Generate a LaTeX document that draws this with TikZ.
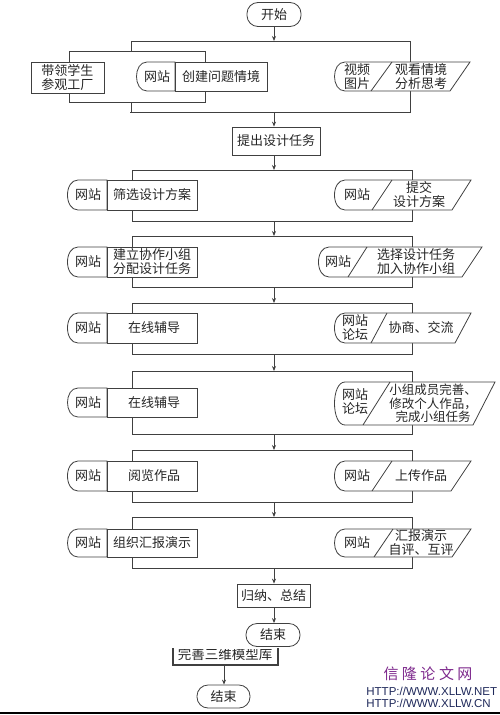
\documentclass[tikz,border=0pt]{standalone}
\usepackage{fontspec}
\setmainfont{Noto Sans CJK SC}
\newfontfamily\urlfont{Liberation Sans}
\usetikzlibrary{arrows.meta}
\definecolor{wmpurple}{RGB}{125,40,140}
\definecolor{urlblue}{RGB}{30,40,90}

\begin{document}
\begin{tikzpicture}[x=1pt,y=-1pt,line width=0.8pt,color=black!75,
    >={Stealth[length=5pt,width=4pt]},
    txt/.style={font=\fontsize{13}{14}\selectfont,align=center,inner sep=0pt,text=black!85},
    term/.style={txt,draw,fill=white,rounded corners=11pt,minimum width=54pt,minimum height=24pt},
    proc/.style={txt,draw,fill=white,minimum height=28pt},
    shp/.style={draw,fill=white}]
    \useasboundingbox (0,0) rectangle (500,715);

    % start and first parallel block
    \node[term] (start) at (274,14.5) {开始};
    \coordinate (s1t) at (274,41);
    \coordinate (s1b) at (274,112);
    \draw[->] (start) -- (s1t);
    \draw (131,51) -- (131,41) -- (410,41) -- (410,112) -- (130,112);
    \draw (131,102) -- (131,112);
    \draw (69,51) rectangle (205,102);
    \node[proc,minimum width=73pt,minimum height=31pt] (visit) at (67.5,77.5) {带领学生\\参观工厂};
    \draw[shp] (175,62) -- (147,62) .. controls (133,62) and (133,91) .. (147,91) -- (175,91) -- cycle;
    \draw[shp] (175,62) rectangle (267,91);
    \node[txt] (w1) at (157,76.5) {网站};
    \node[txt] (p1) at (221,76.5) {创建问题情境};
    \draw[shp] (470,62) -- (345,62) .. controls (331,62) and (331,91) .. (345,91) -- (450,91) -- cycle;
    \draw (371,91) -- (392,62);
    \node[txt] (rw1) at (357,76.5) {视频\\图片};
    \node[txt] (rd1) at (421,76.5) {观看情境\\分析思考};

    \node[proc,minimum width=88pt] (design) at (276,141) {提出设计任务};
    \coordinate (s2t) at (274,170);
    \draw[->] (s1b) -- (s1b |- design.north);
    \draw[->] (design.south -| s2t) -- (s2t);

    % block 2
    \coordinate (s2b) at (274,221);
    \draw (132,170) rectangle (412,221);
    \draw[shp] (107,180) -- (78,180) .. controls (64,180) and (64,210) .. (78,210) -- (107,210) -- cycle;
    \draw[shp] (107,180) rectangle (197,210);
    \node[txt] (w2) at (88,195) {网站};
    \node[txt] (p2) at (152,195) {筛选设计方案};
    \draw[shp] (471,180) -- (345,180) .. controls (331,180) and (331,210) .. (345,210) -- (452,210) -- cycle;
    \draw (372,210) -- (392,180);
    \node[txt] (rw2) at (357,195) {网站};
    \node[txt] (rd2) at (419,195) {提交\\设计方案};

    % block 3
    \coordinate (s3t) at (274,236);
    \coordinate (s3b) at (274,287);
    \draw[->] (s2b) -- (s3t);
    \draw (132,236) rectangle (412,287);
    \draw[shp] (107,247) -- (78,247) .. controls (64,247) and (64,277) .. (78,277) -- (107,277) -- cycle;
    \draw[shp] (107,247) rectangle (197,277);
    \node[txt] (w3) at (88,262) {网站};
    \node[txt] (p3) at (152,262) {建立协作小组\\分配设计任务};
    \draw[shp] (482,247) -- (329,247) .. controls (315,247) and (315,277) .. (329,277) -- (462,277) -- cycle;
    \draw (348,277) -- (367,247);
    \node[txt] (rw3) at (338,262) {网站};
    \node[txt] (rd3) at (416,262) {选择设计任务\\加入协作小组};

    % block 4
    \coordinate (s4t) at (274,303);
    \coordinate (s4b) at (274,354);
    \draw[->] (s3b) -- (s4t);
    \draw (132,303) rectangle (412,354);
    \draw[shp] (107,313) -- (78,313) .. controls (64,313) and (64,343) .. (78,343) -- (107,343) -- cycle;
    \draw[shp] (107,313) rectangle (197,343);
    \node[txt] (w4) at (88,328) {网站};
    \node[txt] (p4) at (154,328) {在线辅导};
    \draw[shp] (471,313) -- (345,313) .. controls (331,313) and (331,343) .. (345,343) -- (455,343) -- cycle;
    \draw (371,343) -- (387,313);
    \node[txt] (rw4) at (355,328) {网站\\论坛};
    \node[txt] (rd4) at (421,328) {协商、交流};

    % block 5
    \coordinate (s5t) at (274,371);
    \coordinate (s5b) at (274,434);
    \draw[->] (s4b) -- (s5t);
    \draw (132,371) rectangle (412,434);
    \draw[shp] (107,388) -- (78,388) .. controls (64,388) and (64,417) .. (78,417) -- (107,417) -- cycle;
    \draw[shp] (107,388) rectangle (197,417);
    \node[txt] (w5) at (88,402.5) {网站};
    \node[txt] (p5) at (154,402.5) {在线辅导};
    \draw[shp] (495,382) -- (345,382) .. controls (331,382) and (331,425) .. (345,425) -- (473,425) -- cycle;
    \draw (363,425) -- (390,382);
    \node[txt] (rw5) at (355,402) {网站\\论坛};
    \node[txt,font=\fontsize{12.5}{13.5}\selectfont] (rd5) at (433,403.5) {小组成员完善、\\修改个人作品，\\完成小组任务};

    % block 6
    \coordinate (s6t) at (274,450);
    \coordinate (s6b) at (274,502);
    \draw[->] (s5b) -- (s6t);
    \draw (132,450) rectangle (412,502);
    \draw[shp] (107,461) -- (78,461) .. controls (64,461) and (64,491) .. (78,491) -- (107,491) -- cycle;
    \draw[shp] (107,461) rectangle (197,491);
    \node[txt] (w6) at (88,476) {网站};
    \node[txt] (p6) at (154,476) {阅览作品};
    \draw[shp] (471,461) -- (345,461) .. controls (331,461) and (331,491) .. (345,491) -- (451,491) -- cycle;
    \draw (372,491) -- (392,461);
    \node[txt] (rw6) at (357,476) {网站};
    \node[txt] (rd6) at (421,476) {上传作品};

    % block 7
    \coordinate (s7t) at (274,517);
    \coordinate (s7b) at (274,568);
    \draw[->] (s6b) -- (s7t);
    \draw (132,517) rectangle (412,568);
    \draw[shp] (107,529) -- (78,529) .. controls (64,529) and (64,557) .. (78,557) -- (107,557) -- cycle;
    \draw[shp] (107,529) rectangle (197,557);
    \node[txt] (w7) at (88,543) {网站};
    \node[txt] (p7) at (152,543) {组织汇报演示};
    \draw[shp] (471,529) -- (345,529) .. controls (331,529) and (331,557) .. (345,557) -- (452,557) -- cycle;
    \draw (374,557) -- (393,529);
    \node[txt] (rw7) at (357,543) {网站};
    \node[txt] (rd7) at (421,543) {汇报演示\\自评、互评};

    % summary and end
    \node[proc,minimum width=73pt,minimum height=23pt] (sum) at (273.5,595.5) {归纳、总结};
    \node[term,minimum height=23pt] (end) at (273,635) {结束};
    \draw[->] (s7b) -- (s7b |- sum.north);
    \draw[->] (sum.south -| s7b) -- (s7b |- end.north);

    % cut-off piece below
    \begin{scope}
        \clip (160,649) rectangle (300,680);
        \node[txt,font=\fontsize{13.5}{14}\selectfont] (lib) at (225,654) {完善三维模型库};
    \end{scope}
    \draw[line width=1.4pt] (173,648) -- (173,665) -- (278,665) -- (278,648);
    \coordinate (libb) at (224,665);
    \node[term,minimum width=53pt,minimum height=23pt] (end2) at (223.5,696.5) {结束};
    \draw[->] (libb) -- (libb |- end2.north);
    \draw[line width=2pt,black] (0,712.5) -- (500,712.5);

    % site mark
    \node[font=\fontsize{15}{15}\selectfont,text=wmpurple,inner sep=0pt] (mark) at (428,674)
        {信\hspace{3.5pt}隆\hspace{3.5pt}论\hspace{3.5pt}文\hspace{3.5pt}网};
    \node[font=\urlfont\fontsize{11.5}{12}\selectfont,text=urlblue,anchor=west,inner sep=0pt] (url1) at (366,691) {HTTP://WWW.XLLW.NET};
    \node[font=\urlfont\fontsize{11.5}{12}\selectfont,text=urlblue,anchor=west,inner sep=0pt] (url2) at (366,703.5) {HTTP://WWW.XLLW.CN};
\end{tikzpicture}
\end{document}
